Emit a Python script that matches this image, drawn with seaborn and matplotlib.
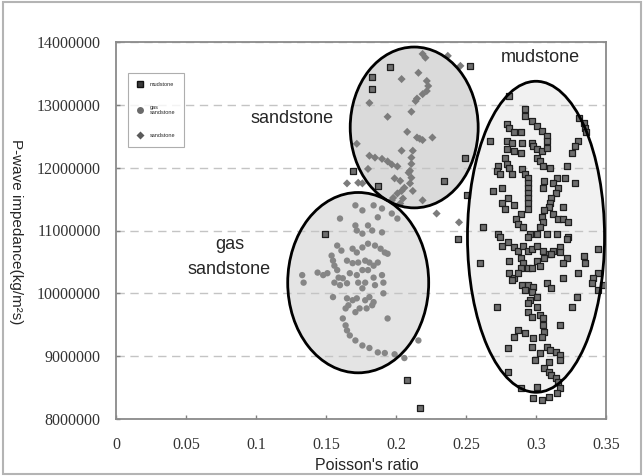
import numpy as np
import pandas as pd
import matplotlib
matplotlib.use("Agg")
import matplotlib.pyplot as plt
from matplotlib.patches import Ellipse, Rectangle
from matplotlib.lines import Line2D
import seaborn as sns

# ---------------- data ----------------
mud_x = [0.196, 0.183, 0.183, 0.253, 0.249, 0.169, 0.187, 0.234, 0.251, 0.149,
         0.244, 0.267, 0.260, 0.208, 0.217,
         0.281, 0.292, 0.292, 0.297, 0.279, 0.281, 0.301, 0.304, 0.308, 0.284,
         0.289, 0.279, 0.283, 0.308, 0.290, 0.297, 0.298, 0.331, 0.334, 0.335,
         0.336, 0.330, 0.328, 0.326, 0.279, 0.284, 0.289, 0.301, 0.304, 0.308,
         0.278, 0.279, 0.301, 0.303, 0.305, 0.310, 0.322, 0.273, 0.272, 0.274,
         0.281, 0.283, 0.290, 0.292, 0.294, 0.306, 0.305, 0.315, 0.321, 0.328,
         0.276, 0.269, 0.294, 0.294, 0.294, 0.294, 0.294, 0.294, 0.312, 0.316,
         0.314, 0.311, 0.280, 0.276, 0.278, 0.284, 0.319, 0.310, 0.309, 0.289,
         0.286, 0.287, 0.291, 0.306, 0.304, 0.305, 0.303, 0.312, 0.316, 0.319,
         0.323, 0.262, 0.301, 0.296, 0.294, 0.308, 0.315, 0.273, 0.274, 0.323,
         0.276, 0.280, 0.284, 0.287, 0.291, 0.294, 0.297, 0.301, 0.305, 0.309,
         0.312, 0.317, 0.322, 0.344, 0.281, 0.289, 0.291, 0.294, 0.297, 0.301,
         0.303, 0.306, 0.311, 0.317, 0.322, 0.319, 0.334, 0.335, 0.330, 0.281,
         0.284, 0.283, 0.289, 0.287, 0.319, 0.344, 0.341, 0.340, 0.344, 0.348,
         0.290, 0.294, 0.298, 0.292, 0.297, 0.308, 0.311, 0.329, 0.301, 0.296,
         0.294, 0.272, 0.326, 0.301, 0.294, 0.297, 0.303, 0.305, 0.305, 0.306,
         0.304, 0.298, 0.292, 0.287, 0.284, 0.317, 0.280, 0.297, 0.303, 0.308,
         0.310, 0.314, 0.317, 0.317, 0.299, 0.309, 0.306, 0.309, 0.311, 0.314,
         0.280, 0.316, 0.317, 0.315, 0.309, 0.304, 0.298, 0.289, 0.301]
mud_y = [13.60, 13.44, 13.25, 13.62, 12.16, 11.95, 11.71, 11.79, 11.56, 10.94,
         10.87, 12.43, 10.48, 8.62, 8.17,
         13.14, 12.94, 12.83, 12.75, 12.70, 12.63, 12.67, 12.59, 12.51, 12.56,
         12.56, 12.43, 12.40, 12.43, 12.40, 12.40, 12.35, 12.79, 12.71, 12.63,
         12.56, 12.43, 12.35, 12.24, 12.30, 12.27, 12.24, 12.30, 12.27, 12.32,
         12.16, 12.06, 12.16, 12.11, 12.03, 12.00, 12.03, 12.03, 11.95, 11.90,
         12.00, 11.90, 11.98, 11.90, 11.83, 11.79, 11.68, 11.84, 11.84, 11.75,
         11.68, 11.63, 11.75, 11.67, 11.59, 11.51, 11.43, 11.35, 11.75, 11.68,
         11.60, 11.52, 11.51, 11.43, 11.35, 11.40, 11.37, 11.44, 11.37, 11.27,
         11.19, 11.11, 11.05, 11.32, 11.21, 11.13, 11.05, 11.27, 11.19, 11.19,
         11.13, 11.05, 10.95, 10.95, 10.89, 10.95, 10.95, 10.95, 10.89, 10.89,
         10.76, 10.81, 10.73, 10.68, 10.76, 10.68, 10.71, 10.76, 10.68, 10.63,
         10.68, 10.73, 10.87, 10.71, 10.52, 10.56, 10.48, 10.40, 10.41, 10.52,
         10.44, 10.56, 10.63, 10.65, 10.56, 10.48, 10.60, 10.48, 10.33, 10.33,
         10.25, 10.21, 10.40, 10.32, 10.24, 10.33, 10.24, 10.16, 10.05, 10.13,
         10.13, 10.13, 10.10, 10.05, 10.02, 10.17, 10.08, 9.94, 9.94, 9.89,
         9.84, 9.78, 9.78, 9.78, 9.70, 9.62, 9.65, 9.60, 9.49, 9.38,
         9.30, 9.29, 9.37, 9.41, 9.30, 9.49, 9.13, 9.14, 9.05, 9.14,
         9.10, 9.06, 9.02, 8.94, 8.94, 8.90, 8.81, 8.75, 8.70, 8.65,
         8.75, 8.59, 8.49, 8.41, 8.35, 8.30, 8.33, 8.49, 8.51]

gas_x = [0.171, 0.176, 0.184, 0.190, 0.197, 0.201, 0.160, 0.187, 0.171, 0.172,
         0.176, 0.180, 0.183, 0.190, 0.158, 0.161, 0.169, 0.172, 0.176, 0.180,
         0.185, 0.189, 0.192, 0.194, 0.154, 0.155, 0.156, 0.158, 0.165, 0.169,
         0.173, 0.178, 0.181, 0.184, 0.187, 0.144, 0.148, 0.151, 0.159, 0.162,
         0.167, 0.172, 0.176, 0.180, 0.184, 0.190, 0.133, 0.134, 0.156, 0.160,
         0.165, 0.173, 0.178, 0.185, 0.191, 0.176, 0.155, 0.165, 0.169, 0.172,
         0.178, 0.181, 0.184, 0.183, 0.179, 0.174, 0.171, 0.166, 0.164, 0.191,
         0.194, 0.162, 0.164, 0.165, 0.167, 0.171, 0.176, 0.181, 0.187, 0.192,
         0.199, 0.206, 0.216]
gas_y = [11.40, 11.32, 11.40, 11.35, 11.27, 11.19, 11.19, 11.21, 11.08, 11.00,
         10.95, 11.08, 11.00, 10.97, 10.76, 10.68, 10.71, 10.65, 10.73, 10.79,
         10.76, 10.71, 10.65, 10.63, 10.60, 10.52, 10.44, 10.37, 10.52, 10.48,
         10.49, 10.52, 10.49, 10.44, 10.49, 10.33, 10.29, 10.32, 10.25, 10.24,
         10.32, 10.29, 10.37, 10.37, 10.25, 10.29, 10.29, 10.17, 10.17, 10.13,
         10.16, 10.17, 10.17, 10.13, 10.17, 10.08, 9.94, 9.92, 9.89, 9.92,
         9.89, 9.94, 9.86, 9.81, 9.76, 9.76, 9.70, 9.81, 9.76, 10.00,
         9.60, 9.60, 9.49, 9.41, 9.33, 9.25, 9.17, 9.13, 9.06, 9.05,
         9.03, 8.97, 9.25]

sand_x = [0.219, 0.221, 0.237, 0.246, 0.216, 0.204, 0.222, 0.223, 0.222, 0.219,
          0.215, 0.214, 0.181, 0.211, 0.194, 0.208, 0.215, 0.217, 0.219, 0.226,
          0.172, 0.204, 0.212, 0.211, 0.211, 0.210, 0.211, 0.210, 0.206, 0.204,
          0.201, 0.198, 0.197, 0.181, 0.185, 0.190, 0.194, 0.197, 0.201, 0.180,
          0.173, 0.176, 0.203, 0.219, 0.212, 0.205, 0.203, 0.229, 0.165, 0.245,
          0.199, 0.209]
sand_y = [13.81, 13.75, 13.78, 13.62, 13.51, 13.41, 13.38, 13.30, 13.22, 13.17,
          13.10, 13.06, 13.03, 12.89, 12.81, 12.57, 12.48, 12.46, 12.44, 12.48,
          12.38, 12.27, 12.27, 12.16, 12.06, 11.95, 11.84, 11.75, 11.68, 11.63,
          11.59, 11.52, 11.48, 12.19, 12.16, 12.14, 12.10, 12.05, 12.02, 11.98,
          11.76, 11.75, 11.79, 11.48, 11.63, 11.51, 11.43, 11.27, 11.75, 11.13,
          11.83, 11.92]

# ellipse outlines: (centre x, centre y, width, height) in data units
ell_names = ["gas sandstone", "sandstone", "mudstone"]
ell_cx = [0.173, 0.213, 0.300]
ell_cy = [10.17, 12.64, 10.90]
ell_w = [0.1007, 0.0914, 0.0979]
ell_h = [2.87, 2.56, 4.95]
ell_fill = ["#e4e4e4", "#dadada", "#f1f1f1"]

x_ticks = [0, 0.05, 0.1, 0.15, 0.2, 0.25, 0.3, 0.35]
x_tick_labels = ["0", "0.05", "0.1", "0.15", "0.2", "0.25", "0.3", "0.35"]
y_ticks = [8, 9, 10, 11, 12, 13, 14]          # millions
y_tick_labels = ["8000000", "9000000", "10000000", "11000000",
                 "12000000", "13000000", "14000000"]

df = pd.concat([
    pd.DataFrame({"x": mud_x, "y": mud_y, "rock": "mudstone"}),
    pd.DataFrame({"x": gas_x, "y": gas_y, "rock": "gas sandstone"}),
    pd.DataFrame({"x": sand_x, "y": sand_y, "rock": "sandstone"}),
], ignore_index=True)

# ---------------- figure ----------------
sns.set_style("white")
plt.rcParams["font.family"] = ["Liberation Sans", "DejaVu Sans"]

fig = plt.figure(figsize=(6.44, 4.76), dpi=100)
ax = fig.add_axes([116 / 644, 1 - 419 / 476, 490 / 644, 377 / 476])

ax.set_xlim(0, 0.35)
ax.set_ylim(8, 14)

# ellipse fills
for cx, cy, w, h, fc in zip(ell_cx, ell_cy, ell_w, ell_h, ell_fill):
    ax.add_patch(Ellipse((cx, cy), w, h, facecolor=fc, edgecolor="none", zorder=0.3))

ax.set_axisbelow(True)
ax.yaxis.grid(True, color="#c4c4c4", linestyle=(0, (6, 4)), linewidth=1.0)
ax.xaxis.grid(False)

sns.scatterplot(data=df[df.rock == "gas sandstone"], x="x", y="y", ax=ax,
                marker="o", s=21, color="#868686", edgecolor="none",
                legend=False, zorder=2)
sns.scatterplot(data=df[df.rock == "sandstone"], x="x", y="y", ax=ax,
                marker="D", s=17, color="#7c7c7c", edgecolor="none",
                legend=False, zorder=2)
sns.scatterplot(data=df[df.rock == "mudstone"], x="x", y="y", ax=ax,
                marker="s", s=22, color="#6e6e6e", edgecolor="#1e1e1e",
                linewidth=0.9, legend=False, zorder=2.2)

# ellipse outlines on top
for cx, cy, w, h in zip(ell_cx, ell_cy, ell_w, ell_h):
    ax.add_patch(Ellipse((cx, cy), w, h, facecolor="none", edgecolor="black",
                         linewidth=2.0, zorder=3))

# region labels
ax.text(0.303, 13.75, "mudstone", fontsize=13, ha="center", va="center", zorder=4)
ax.text(0.126, 12.78, "sandstone", fontsize=13, ha="center", va="center", zorder=4)
ax.text(0.081, 10.58, "gas\nsandstone", fontsize=13, ha="center", va="center",
        linespacing=1.65, zorder=4)

# ticks
ax.set_xticks(x_ticks)
ax.set_xticklabels(x_tick_labels)
ax.set_yticks(y_ticks)
ax.set_yticklabels(y_tick_labels)
for lab in ax.get_xticklabels() + ax.get_yticklabels():
    lab.set_family(["Liberation Serif", "DejaVu Serif"])
    lab.set_fontsize(11.5)
    lab.set_color("#333333")
ax.tick_params(axis="y", direction="in", length=3, width=1, color="#808080", pad=11, left=True)
ax.tick_params(axis="x", direction="in", length=3, width=1, color="#808080", pad=13, bottom=True)

for sp in ax.spines.values():
    sp.set_visible(True)
    sp.set_color("#8a8a8a")
    sp.set_linewidth(1.3)

ax.set_xlabel("Poisson's ratio", fontsize=11.5)
ax.set_ylabel("P-wave impedance(kg/m²s)", fontsize=11, rotation=270,
              va="center", ha="center", rotation_mode="anchor")
ax.xaxis.set_label_coords(0.512, -0.103)
ax.yaxis.set_label_coords(-0.204, 0.496)

# legend
handles = [
    Line2D([], [], marker="s", linestyle="none", markersize=5,
           markerfacecolor="#3a3a3a", markeredgecolor="#111111"),
    Line2D([], [], marker="o", linestyle="none", markersize=5,
           markerfacecolor="#6a6a6a", markeredgecolor="none"),
    Line2D([], [], marker="D", linestyle="none", markersize=4.5,
           markerfacecolor="#5a5a5a", markeredgecolor="none"),
]
labels = ["mudstone", "gas\nsandstone", "sandstone"]
leg = ax.legend(handles, labels, loc="upper left", bbox_to_anchor=(0.024, 0.918),
                fontsize=4, frameon=True, fancybox=False, borderpad=1.6,
                labelspacing=3.2, handletextpad=1.2, handlelength=1.2,
                borderaxespad=0)
leg.get_frame().set_edgecolor("#9a9a9a")
leg.get_frame().set_linewidth(0.8)
leg.set_zorder(5)

# outer figure border
fig.patches.append(Rectangle((0.004, 0.004), 0.992, 0.992, transform=fig.transFigure,
                             fill=False, edgecolor="#b4b4b4", linewidth=1.5))

fig.savefig("out.png", dpi=100)
